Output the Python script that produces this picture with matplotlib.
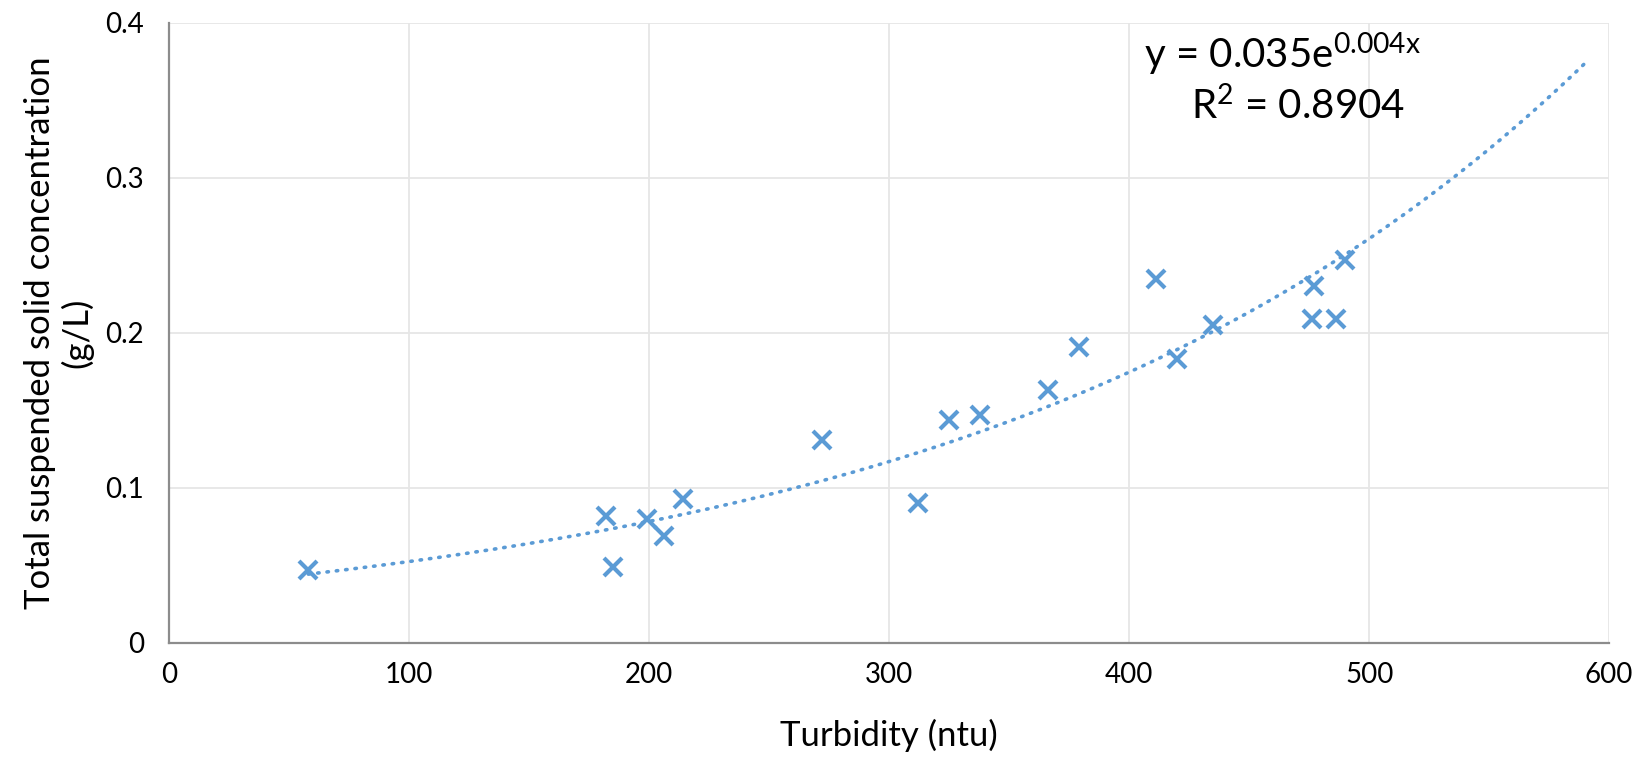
import numpy as np
import matplotlib
matplotlib.use("Agg")
import matplotlib.pyplot as plt

# turbidity (ntu) vs total suspended solids (g/L)
turbidity = [58, 182, 185, 199, 206, 214, 272, 312, 325, 338, 366, 379,
             411, 420, 435, 476, 477, 486, 490]
tss = [0.047, 0.082, 0.049, 0.080, 0.069, 0.093, 0.131, 0.090, 0.144, 0.147,
       0.163, 0.191, 0.235, 0.183, 0.205, 0.209, 0.230, 0.209, 0.247]
x_ticks = [0, 100, 200, 300, 400, 500, 600]
y_ticks = [0, 0.1, 0.2, 0.3, 0.4]
y_tick_labels = ['0', '0.1', '0.2', '0.3', '0.4']
forecast = 100  # trendline forward forecast

plt.rcParams['font.family'] = ['Lato', 'DejaVu Sans']
plt.rcParams['mathtext.fontset'] = 'custom'
plt.rcParams['mathtext.rm'] = 'Lato'
plt.rcParams['mathtext.it'] = 'Lato'

blue = '#5B9BD5'

fig = plt.figure(figsize=(16.42, 7.59), dpi=100)
ax = fig.add_axes([0.103, 0.153, 0.877, 0.817])

# exponential trendline (log-linear fit like Excel)
b, ln_a = np.polyfit(turbidity, np.log(tss), 1)
xs = np.linspace(min(turbidity), max(turbidity) + forecast, 300)
ax.plot(xs, np.exp(ln_a) * np.exp(b * xs), color=blue, lw=2.6,
        linestyle=(0, (0.4, 2.2)), dash_capstyle='round', zorder=2)

ax.plot(turbidity, tss, linestyle='none', marker='x', markersize=12.5,
        markeredgewidth=3.0, color=blue, zorder=3)

ax.set_xlim(0, 600)
ax.set_ylim(0, 0.4)
ax.set_xticks(x_ticks)
ax.set_yticks(y_ticks)
ax.set_yticklabels(y_tick_labels)
ax.tick_params(length=0, labelsize=20, colors='black', pad=14)
ax.tick_params(axis='y', pad=18)
ax.grid(True, color='#e6e6e6', lw=1.3)
ax.set_axisbelow(True)
for s in ['top', 'right']:
    ax.spines[s].set_visible(False)
for s in ['left', 'bottom']:
    ax.spines[s].set_color('#8c8c8c')
    ax.spines[s].set_linewidth(1.6)

ax.set_xlabel('Turbidity (ntu)', fontsize=25, labelpad=22)
ax.set_ylabel('Total suspended solid concentration\n(g/L)', fontsize=25,
              labelpad=9, linespacing=1.15)

ax.text(0.773, 0.949, 'y = 0.035e$^{0.004x}$', transform=ax.transAxes,
        fontsize=29, ha='center', va='center')
ax.text(0.784, 0.866, 'R$^{2}$ = 0.8904', transform=ax.transAxes,
        fontsize=29, ha='center', va='center')

plt.savefig('out.png', dpi=100)
